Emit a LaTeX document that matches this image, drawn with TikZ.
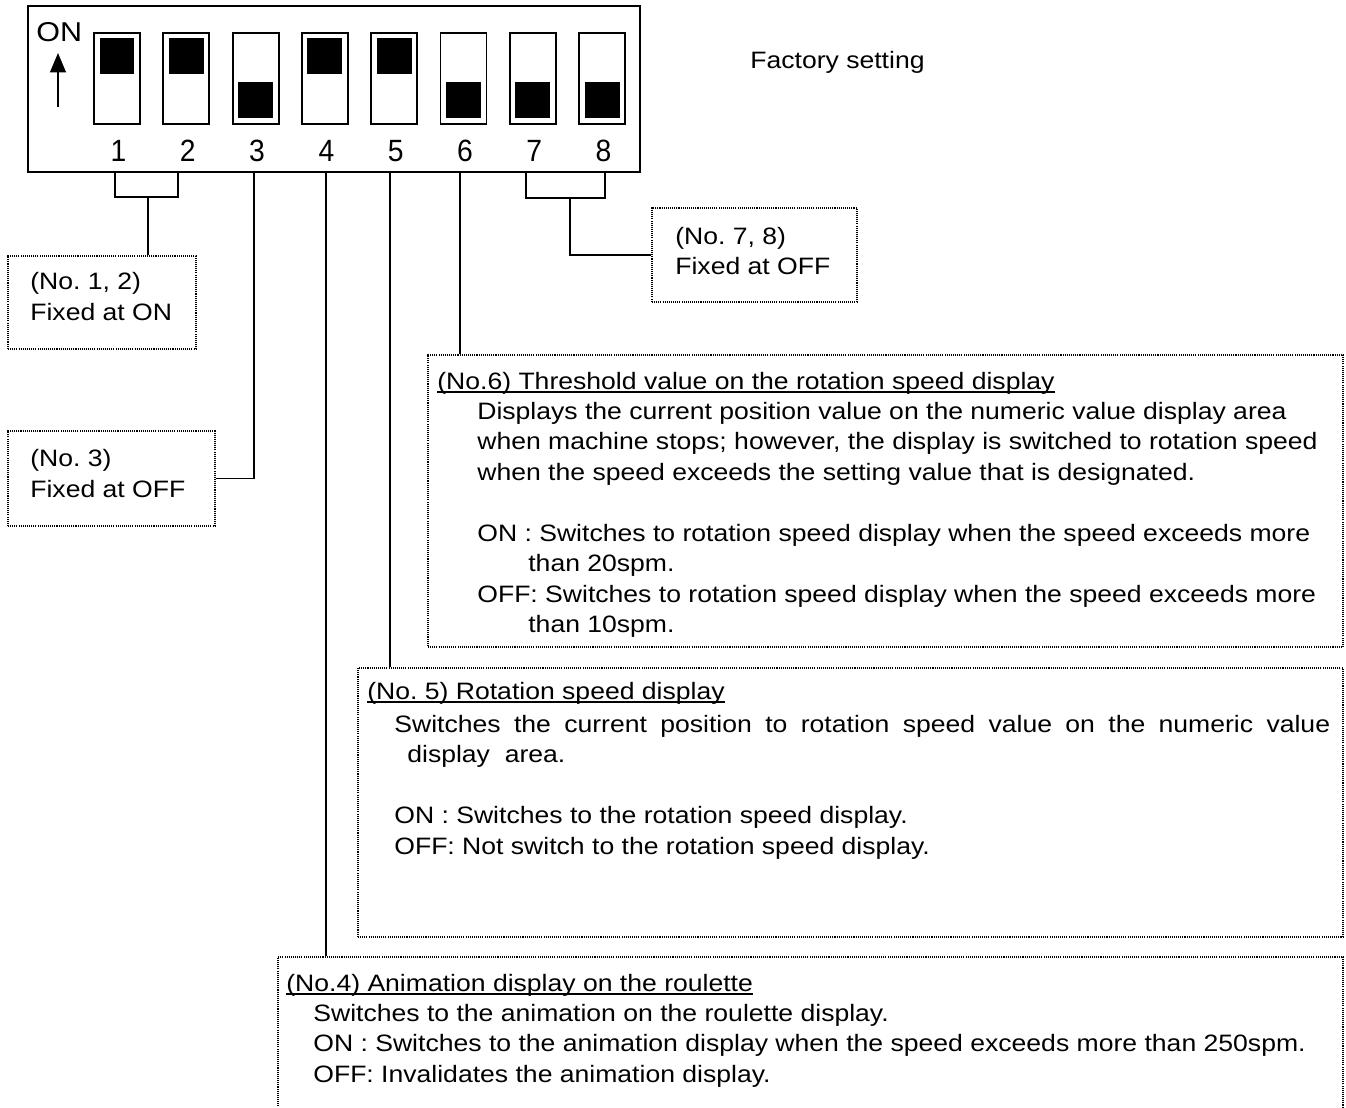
\documentclass[tikz,border=0pt]{standalone}
\usepackage{fontspec}
\setmainfont{Liberation Sans}[FakeStretch=1.12]
\newfontfamily\digitfont{Liberation Sans}[FakeStretch=0.92]
\usetikzlibrary{arrows.meta, positioning, fit, calc}

\newcommand{\ultitle}[1]{\setbox0\hbox{#1}\rlap{\rule[-2pt]{\wd0}{0.8pt}}\box0}
\frenchspacing

\begin{document}
\begin{tikzpicture}[
    x=0.02cm, y=-0.02cm,
    frame/.style={draw, line width=1.2pt, inner sep=0pt},
    switchbody/.style={rectangle, draw, line width=1.1pt, fill=white, minimum width=0.92cm, minimum height=1.82cm, inner sep=0pt},
    lever/.style={rectangle, fill=black, minimum width=0.7cm, minimum height=0.72cm, inner sep=0pt},
    digit/.style={font=\digitfont\fontsize{17.5}{20}\selectfont, inner sep=0pt},
    infobox/.style={draw, line width=1pt, dash pattern=on 0.6pt off 0.6pt, inner sep=0pt},
    txt/.style={anchor=base west, align=left, inner sep=0pt, font=\frenchspacing\fontsize{13.5}{17.35}\selectfont},
    wire/.style={line width=0.9pt},
]
\useasboundingbox (0,0) rectangle (1346,1108);

% DIP switch frame
\node[frame, fit={(28,6) (640,172)}] (dip) {};

% ON arrow
\node[anchor=base west, inner sep=0pt, font=\fontsize{15.5}{18}\selectfont] (on) at (36,42) {ON};
\coordinate (arrowtail) at (58,107);
\coordinate (arrowtip) at (58,53);
\draw[wire, -{Triangle[width=9pt,length=11pt]}] (arrowtail) -- (arrowtip);

% Switches
\foreach \i/\ly in {1/56, 2/56, 3/100, 4/56, 5/56, 6/100, 7/100, 8/100} {
    \pgfmathsetmacro{\xc}{117+69.3*(\i-1)}
    \node[switchbody] (sw\i) at (\xc,78.5) {};
    \node[lever] (lv\i) at (\xc,\ly) {};
    \node[digit] (n\i) at (\xc+1.5,151) {\i};
}

% Connector feet
\foreach \i/\x in {1/115, 2/178, 3/254, 4/326, 5/390, 6/460, 7/526, 8/605}
    \coordinate (p\i) at (\x,172);

\node[txt] (factory) at (750,69) {Factory setting};

% Boxes
\node[infobox, fit={(8,256) (196,349)}] (box12) {};
\node[infobox, fit={(8,431) (215,526)}] (box3) {};
\node[infobox, fit={(652,208) (857,302)}] (box78) {};
\node[infobox, fit={(428,355) (1343,647)}] (box6) {};
\node[infobox, fit={(358,668) (1343,937)}] (box5) {};
\node[infobox, fit={(278,957) (1343,1120)}] (box4) {};

% No. 1, 2
\coordinate (m12) at (148,197);
\draw[wire] (p1) |- (m12) -| (p2);
\draw[wire] (m12) -- (m12 |- box12.north);
\node[txt] (t12) at (30,320) {(No. 1, 2)\\Fixed at ON};

% No. 3
\draw[wire] (p3) |- (box3.east);
\node[txt] (t3) at (30,497) {(No. 3)\\Fixed at OFF};

% No. 7, 8
\coordinate (m78) at (570,198);
\draw[wire] (p7) |- (m78) -| (p8);
\draw[wire] (m78) |- (box78.west);
\node[txt] (t78) at (675,275) {(No. 7, 8)\\Fixed at OFF};

% No. 4, 5, 6 leads
\draw[wire] (p4) -- (p4 |- box4.north);
\draw[wire] (p5) -- (p5 |- box5.north);
\draw[wire] (p6) -- (p6 |- box6.north);

% No. 6
\node[txt] (h6) at (437,389) {\ultitle{(No.6) Threshold value on the rotation speed display}};
\node[txt] (d6) at (477,632.5) {Displays the current position value on the numeric value display area\\
    when machine stops; however, the display is switched to rotation speed\\
    when the speed exceeds the setting value that is designated.\\[17.35pt]
    ON : Switches to rotation speed display when the speed exceeds more\\
    \hspace*{1.02cm}than 20spm.\\
    OFF: Switches to rotation speed display when the speed exceeds more\\
    \hspace*{1.02cm}than 10spm.};

% No. 5
\node[txt] (h5) at (367,699) {\ultitle{(No. 5) Rotation speed display}};
\node[txt] (d5) at (394,854) {\makebox[18.72cm][s]{Switches the current position to rotation speed value on the numeric value}\\
    \hspace*{0.26cm}display\ \ area.\\[17.35pt]
    ON : Switches to the rotation speed display.\\
    OFF: Not switch to the rotation speed display.};

% No. 4
\node[txt] (h4) at (286,991) {\ultitle{(No.4) Animation display on the roulette}};
\node[txt] (d4) at (313,1082) {Switches to the animation on the roulette display.\\
    ON : Switches to the animation display when the speed exceeds more than 250spm.\\
    OFF: Invalidates the animation display.};

\end{tikzpicture}
\end{document}
